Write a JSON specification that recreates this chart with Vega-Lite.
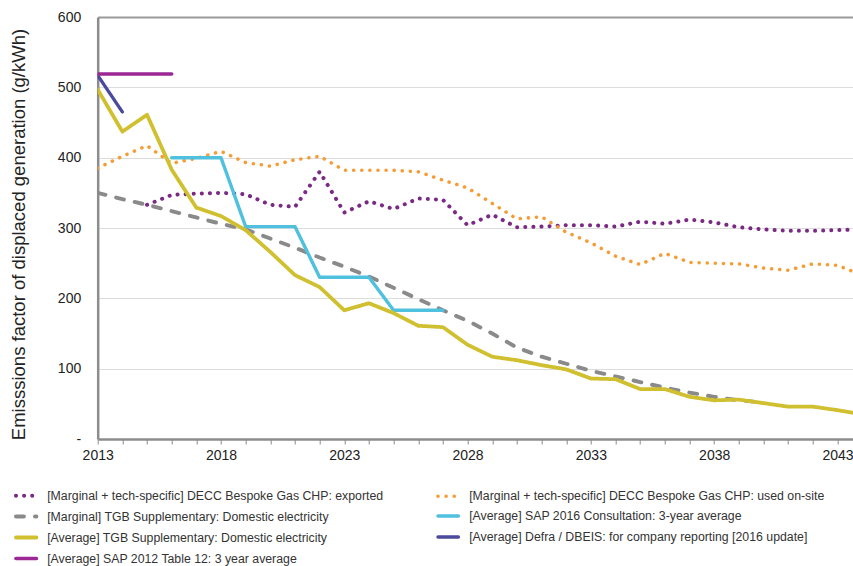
{
  "$schema": "https://vega.github.io/schema/vega-lite/v6.json",
  "width": 755.3,
  "height": 422,
  "autosize": {"type": "none"},
  "padding": {"left": 97.7, "top": 17, "right": 0, "bottom": 127},
  "background": "white",
  "config": {
    "view": {"stroke": null},
    "font": "Liberation Sans",
    "axis": {"labelFont": "Liberation Sans", "titleFont": "Liberation Sans"},
    "legend": {"labelFont": "Liberation Sans"}
  },
  "data": {
    "values": [
      {"series": "[Marginal + tech-specific] DECC Bespoke Gas CHP: exported", "year": 2015, "value": 333},
      {"series": "[Marginal + tech-specific] DECC Bespoke Gas CHP: exported", "year": 2016, "value": 347},
      {"series": "[Marginal + tech-specific] DECC Bespoke Gas CHP: exported", "year": 2017, "value": 349},
      {"series": "[Marginal + tech-specific] DECC Bespoke Gas CHP: exported", "year": 2018, "value": 350},
      {"series": "[Marginal + tech-specific] DECC Bespoke Gas CHP: exported", "year": 2019, "value": 348},
      {"series": "[Marginal + tech-specific] DECC Bespoke Gas CHP: exported", "year": 2020, "value": 333},
      {"series": "[Marginal + tech-specific] DECC Bespoke Gas CHP: exported", "year": 2021, "value": 330},
      {"series": "[Marginal + tech-specific] DECC Bespoke Gas CHP: exported", "year": 2022, "value": 380},
      {"series": "[Marginal + tech-specific] DECC Bespoke Gas CHP: exported", "year": 2023, "value": 322},
      {"series": "[Marginal + tech-specific] DECC Bespoke Gas CHP: exported", "year": 2024, "value": 338},
      {"series": "[Marginal + tech-specific] DECC Bespoke Gas CHP: exported", "year": 2025, "value": 327},
      {"series": "[Marginal + tech-specific] DECC Bespoke Gas CHP: exported", "year": 2026, "value": 342},
      {"series": "[Marginal + tech-specific] DECC Bespoke Gas CHP: exported", "year": 2027, "value": 340},
      {"series": "[Marginal + tech-specific] DECC Bespoke Gas CHP: exported", "year": 2028, "value": 304},
      {"series": "[Marginal + tech-specific] DECC Bespoke Gas CHP: exported", "year": 2029, "value": 319},
      {"series": "[Marginal + tech-specific] DECC Bespoke Gas CHP: exported", "year": 2030, "value": 301},
      {"series": "[Marginal + tech-specific] DECC Bespoke Gas CHP: exported", "year": 2031, "value": 302},
      {"series": "[Marginal + tech-specific] DECC Bespoke Gas CHP: exported", "year": 2032, "value": 304},
      {"series": "[Marginal + tech-specific] DECC Bespoke Gas CHP: exported", "year": 2033, "value": 304},
      {"series": "[Marginal + tech-specific] DECC Bespoke Gas CHP: exported", "year": 2034, "value": 302},
      {"series": "[Marginal + tech-specific] DECC Bespoke Gas CHP: exported", "year": 2035, "value": 309},
      {"series": "[Marginal + tech-specific] DECC Bespoke Gas CHP: exported", "year": 2036, "value": 306},
      {"series": "[Marginal + tech-specific] DECC Bespoke Gas CHP: exported", "year": 2037, "value": 312},
      {"series": "[Marginal + tech-specific] DECC Bespoke Gas CHP: exported", "year": 2038, "value": 308},
      {"series": "[Marginal + tech-specific] DECC Bespoke Gas CHP: exported", "year": 2039, "value": 301},
      {"series": "[Marginal + tech-specific] DECC Bespoke Gas CHP: exported", "year": 2040, "value": 298},
      {"series": "[Marginal + tech-specific] DECC Bespoke Gas CHP: exported", "year": 2041, "value": 296},
      {"series": "[Marginal + tech-specific] DECC Bespoke Gas CHP: exported", "year": 2042, "value": 296},
      {"series": "[Marginal + tech-specific] DECC Bespoke Gas CHP: exported", "year": 2043, "value": 297},
      {"series": "[Marginal + tech-specific] DECC Bespoke Gas CHP: exported", "year": 2044, "value": 298},

      {"series": "[Marginal + tech-specific] DECC Bespoke Gas CHP: used on-site", "year": 2013, "value": 385},
      {"series": "[Marginal + tech-specific] DECC Bespoke Gas CHP: used on-site", "year": 2014, "value": 402},
      {"series": "[Marginal + tech-specific] DECC Bespoke Gas CHP: used on-site", "year": 2015, "value": 417},
      {"series": "[Marginal + tech-specific] DECC Bespoke Gas CHP: used on-site", "year": 2016, "value": 392},
      {"series": "[Marginal + tech-specific] DECC Bespoke Gas CHP: used on-site", "year": 2017, "value": 399},
      {"series": "[Marginal + tech-specific] DECC Bespoke Gas CHP: used on-site", "year": 2018, "value": 409},
      {"series": "[Marginal + tech-specific] DECC Bespoke Gas CHP: used on-site", "year": 2019, "value": 393},
      {"series": "[Marginal + tech-specific] DECC Bespoke Gas CHP: used on-site", "year": 2020, "value": 388},
      {"series": "[Marginal + tech-specific] DECC Bespoke Gas CHP: used on-site", "year": 2021, "value": 397},
      {"series": "[Marginal + tech-specific] DECC Bespoke Gas CHP: used on-site", "year": 2022, "value": 402},
      {"series": "[Marginal + tech-specific] DECC Bespoke Gas CHP: used on-site", "year": 2023, "value": 382},
      {"series": "[Marginal + tech-specific] DECC Bespoke Gas CHP: used on-site", "year": 2024, "value": 382},
      {"series": "[Marginal + tech-specific] DECC Bespoke Gas CHP: used on-site", "year": 2025, "value": 382},
      {"series": "[Marginal + tech-specific] DECC Bespoke Gas CHP: used on-site", "year": 2026, "value": 380},
      {"series": "[Marginal + tech-specific] DECC Bespoke Gas CHP: used on-site", "year": 2027, "value": 368},
      {"series": "[Marginal + tech-specific] DECC Bespoke Gas CHP: used on-site", "year": 2028, "value": 357},
      {"series": "[Marginal + tech-specific] DECC Bespoke Gas CHP: used on-site", "year": 2029, "value": 335},
      {"series": "[Marginal + tech-specific] DECC Bespoke Gas CHP: used on-site", "year": 2030, "value": 313},
      {"series": "[Marginal + tech-specific] DECC Bespoke Gas CHP: used on-site", "year": 2031, "value": 316},
      {"series": "[Marginal + tech-specific] DECC Bespoke Gas CHP: used on-site", "year": 2032, "value": 294},
      {"series": "[Marginal + tech-specific] DECC Bespoke Gas CHP: used on-site", "year": 2033, "value": 279},
      {"series": "[Marginal + tech-specific] DECC Bespoke Gas CHP: used on-site", "year": 2034, "value": 260},
      {"series": "[Marginal + tech-specific] DECC Bespoke Gas CHP: used on-site", "year": 2035, "value": 248},
      {"series": "[Marginal + tech-specific] DECC Bespoke Gas CHP: used on-site", "year": 2036, "value": 264},
      {"series": "[Marginal + tech-specific] DECC Bespoke Gas CHP: used on-site", "year": 2037, "value": 251},
      {"series": "[Marginal + tech-specific] DECC Bespoke Gas CHP: used on-site", "year": 2038, "value": 250},
      {"series": "[Marginal + tech-specific] DECC Bespoke Gas CHP: used on-site", "year": 2039, "value": 249},
      {"series": "[Marginal + tech-specific] DECC Bespoke Gas CHP: used on-site", "year": 2040, "value": 243},
      {"series": "[Marginal + tech-specific] DECC Bespoke Gas CHP: used on-site", "year": 2041, "value": 240},
      {"series": "[Marginal + tech-specific] DECC Bespoke Gas CHP: used on-site", "year": 2042, "value": 249},
      {"series": "[Marginal + tech-specific] DECC Bespoke Gas CHP: used on-site", "year": 2043, "value": 247},
      {"series": "[Marginal + tech-specific] DECC Bespoke Gas CHP: used on-site", "year": 2044, "value": 233},

      {"series": "[Marginal] TGB Supplementary: Domestic electricity", "year": 2013, "value": 350},
      {"series": "[Marginal] TGB Supplementary: Domestic electricity", "year": 2014, "value": 341},
      {"series": "[Marginal] TGB Supplementary: Domestic electricity", "year": 2015, "value": 333},
      {"series": "[Marginal] TGB Supplementary: Domestic electricity", "year": 2016, "value": 324},
      {"series": "[Marginal] TGB Supplementary: Domestic electricity", "year": 2017, "value": 315},
      {"series": "[Marginal] TGB Supplementary: Domestic electricity", "year": 2018, "value": 306},
      {"series": "[Marginal] TGB Supplementary: Domestic electricity", "year": 2019, "value": 298},
      {"series": "[Marginal] TGB Supplementary: Domestic electricity", "year": 2020, "value": 285},
      {"series": "[Marginal] TGB Supplementary: Domestic electricity", "year": 2021, "value": 272},
      {"series": "[Marginal] TGB Supplementary: Domestic electricity", "year": 2022, "value": 258},
      {"series": "[Marginal] TGB Supplementary: Domestic electricity", "year": 2023, "value": 245},
      {"series": "[Marginal] TGB Supplementary: Domestic electricity", "year": 2024, "value": 231},
      {"series": "[Marginal] TGB Supplementary: Domestic electricity", "year": 2025, "value": 215},
      {"series": "[Marginal] TGB Supplementary: Domestic electricity", "year": 2026, "value": 199},
      {"series": "[Marginal] TGB Supplementary: Domestic electricity", "year": 2027, "value": 183},
      {"series": "[Marginal] TGB Supplementary: Domestic electricity", "year": 2028, "value": 168},
      {"series": "[Marginal] TGB Supplementary: Domestic electricity", "year": 2029, "value": 150},
      {"series": "[Marginal] TGB Supplementary: Domestic electricity", "year": 2030, "value": 130},
      {"series": "[Marginal] TGB Supplementary: Domestic electricity", "year": 2031, "value": 117},
      {"series": "[Marginal] TGB Supplementary: Domestic electricity", "year": 2032, "value": 107},
      {"series": "[Marginal] TGB Supplementary: Domestic electricity", "year": 2033, "value": 97},
      {"series": "[Marginal] TGB Supplementary: Domestic electricity", "year": 2034, "value": 89},
      {"series": "[Marginal] TGB Supplementary: Domestic electricity", "year": 2035, "value": 81},
      {"series": "[Marginal] TGB Supplementary: Domestic electricity", "year": 2036, "value": 73},
      {"series": "[Marginal] TGB Supplementary: Domestic electricity", "year": 2037, "value": 66},
      {"series": "[Marginal] TGB Supplementary: Domestic electricity", "year": 2038, "value": 60},
      {"series": "[Marginal] TGB Supplementary: Domestic electricity", "year": 2039, "value": 55},
      {"series": "[Marginal] TGB Supplementary: Domestic electricity", "year": 2040, "value": 52},

      {"series": "[Average] SAP 2016 Consultation: 3-year average", "year": 2016, "value": 400},
      {"series": "[Average] SAP 2016 Consultation: 3-year average", "year": 2017, "value": 400},
      {"series": "[Average] SAP 2016 Consultation: 3-year average", "year": 2018, "value": 400},
      {"series": "[Average] SAP 2016 Consultation: 3-year average", "year": 2019, "value": 302},
      {"series": "[Average] SAP 2016 Consultation: 3-year average", "year": 2020, "value": 302},
      {"series": "[Average] SAP 2016 Consultation: 3-year average", "year": 2021, "value": 302},
      {"series": "[Average] SAP 2016 Consultation: 3-year average", "year": 2022, "value": 230},
      {"series": "[Average] SAP 2016 Consultation: 3-year average", "year": 2023, "value": 230},
      {"series": "[Average] SAP 2016 Consultation: 3-year average", "year": 2024, "value": 230},
      {"series": "[Average] SAP 2016 Consultation: 3-year average", "year": 2025, "value": 183},
      {"series": "[Average] SAP 2016 Consultation: 3-year average", "year": 2026, "value": 183},
      {"series": "[Average] SAP 2016 Consultation: 3-year average", "year": 2027, "value": 183},

      {"series": "[Average] TGB Supplementary: Domestic electricity", "year": 2013, "value": 497},
      {"series": "[Average] TGB Supplementary: Domestic electricity", "year": 2014, "value": 437},
      {"series": "[Average] TGB Supplementary: Domestic electricity", "year": 2015, "value": 461},
      {"series": "[Average] TGB Supplementary: Domestic electricity", "year": 2016, "value": 383},
      {"series": "[Average] TGB Supplementary: Domestic electricity", "year": 2017, "value": 329},
      {"series": "[Average] TGB Supplementary: Domestic electricity", "year": 2018, "value": 317},
      {"series": "[Average] TGB Supplementary: Domestic electricity", "year": 2019, "value": 297},
      {"series": "[Average] TGB Supplementary: Domestic electricity", "year": 2020, "value": 266},
      {"series": "[Average] TGB Supplementary: Domestic electricity", "year": 2021, "value": 233},
      {"series": "[Average] TGB Supplementary: Domestic electricity", "year": 2022, "value": 216},
      {"series": "[Average] TGB Supplementary: Domestic electricity", "year": 2023, "value": 183},
      {"series": "[Average] TGB Supplementary: Domestic electricity", "year": 2024, "value": 193},
      {"series": "[Average] TGB Supplementary: Domestic electricity", "year": 2025, "value": 179},
      {"series": "[Average] TGB Supplementary: Domestic electricity", "year": 2026, "value": 161},
      {"series": "[Average] TGB Supplementary: Domestic electricity", "year": 2027, "value": 159},
      {"series": "[Average] TGB Supplementary: Domestic electricity", "year": 2028, "value": 134},
      {"series": "[Average] TGB Supplementary: Domestic electricity", "year": 2029, "value": 117},
      {"series": "[Average] TGB Supplementary: Domestic electricity", "year": 2030, "value": 112},
      {"series": "[Average] TGB Supplementary: Domestic electricity", "year": 2031, "value": 105},
      {"series": "[Average] TGB Supplementary: Domestic electricity", "year": 2032, "value": 99},
      {"series": "[Average] TGB Supplementary: Domestic electricity", "year": 2033, "value": 86},
      {"series": "[Average] TGB Supplementary: Domestic electricity", "year": 2034, "value": 85},
      {"series": "[Average] TGB Supplementary: Domestic electricity", "year": 2035, "value": 71},
      {"series": "[Average] TGB Supplementary: Domestic electricity", "year": 2036, "value": 71},
      {"series": "[Average] TGB Supplementary: Domestic electricity", "year": 2037, "value": 60},
      {"series": "[Average] TGB Supplementary: Domestic electricity", "year": 2038, "value": 55},
      {"series": "[Average] TGB Supplementary: Domestic electricity", "year": 2039, "value": 56},
      {"series": "[Average] TGB Supplementary: Domestic electricity", "year": 2040, "value": 51},
      {"series": "[Average] TGB Supplementary: Domestic electricity", "year": 2041, "value": 46},
      {"series": "[Average] TGB Supplementary: Domestic electricity", "year": 2042, "value": 46},
      {"series": "[Average] TGB Supplementary: Domestic electricity", "year": 2043, "value": 41},
      {"series": "[Average] TGB Supplementary: Domestic electricity", "year": 2044, "value": 35},

      {"series": "[Average] Defra / DBEIS: for company reporting [2016 update]", "year": 2013, "value": 517},
      {"series": "[Average] Defra / DBEIS: for company reporting [2016 update]", "year": 2014, "value": 465},

      {"series": "[Average] SAP 2012 Table 12: 3 year average", "year": 2013, "value": 519},
      {"series": "[Average] SAP 2012 Table 12: 3 year average", "year": 2014, "value": 519},
      {"series": "[Average] SAP 2012 Table 12: 3 year average", "year": 2015, "value": 519},
      {"series": "[Average] SAP 2012 Table 12: 3 year average", "year": 2016, "value": 519}
    ]
  },
  "mark": {"type": "line", "strokeCap": "round", "strokeJoin": "round", "clip": true},
  "encoding": {
    "x": {
      "field": "year",
      "type": "quantitative",
      "scale": {"domain": [2013, 2043.63], "nice": false, "zero": false},
      "axis": {
        "title": null,
        "values": [2013, 2014, 2015, 2016, 2017, 2018, 2019, 2020, 2021, 2022, 2023, 2024, 2025, 2026, 2027, 2028, 2029, 2030, 2031, 2032, 2033, 2034, 2035, 2036, 2037, 2038, 2039, 2040, 2041, 2042, 2043],
        "format": "d",
        "labelExpr": "(datum.value - 2013) % 5 === 0 ? datum.label : ''",
        "labelOverlap": false,
        "labelFlush": false,
        "grid": false,
        "domainColor": "#8c8c8c",
        "domainWidth": 2.5,
        "tickColor": "#8c8c8c",
        "tickSize": 5,
        "tickWidth": 1,
        "labelFontSize": 14,
        "labelColor": "#222222",
        "labelPadding": 4
      }
    },
    "y": {
      "field": "value",
      "type": "quantitative",
      "scale": {"domain": [0, 600], "nice": false},
      "axis": {
        "values": [0, 100, 200, 300, 400, 500, 600],
        "labelExpr": "datum.value === 0 ? '-' : datum.label",
        "grid": true,
        "gridColor": {"condition": {"test": "datum.value === 600", "value": "#9a9a9a"}, "value": "#dcdcdc"},
        "gridWidth": {"condition": {"test": "datum.value === 600", "value": 2}, "value": 1},
        "domainColor": "#8c8c8c",
        "domainWidth": 2.5,
        "ticks": false,
        "labelPadding": 17,
        "labelFontSize": 14,
        "labelColor": "#222222",
        "title": "Emisssions factor of displaced generation (g/kWh)",
        "titleFontSize": 18.5,
        "titleFontWeight": "normal",
        "titleColor": "#222222",
        "titlePadding": 29,
        "titleY": 217
      }
    },
    "strokeWidth": {
      "field": "series",
      "type": "nominal",
      "scale": {
        "domain": [
          "[Marginal + tech-specific] DECC Bespoke Gas CHP: exported",
          "[Marginal] TGB Supplementary: Domestic electricity",
          "[Average] TGB Supplementary: Domestic electricity",
          "[Average] SAP 2012 Table 12: 3 year average",
          "[Marginal + tech-specific] DECC Bespoke Gas CHP: used on-site",
          "[Average] SAP 2016 Consultation: 3-year average",
          "[Average] Defra / DBEIS: for company reporting [2016 update]"
        ],
        "range": [4, 3.3, 3.2, 3.2, 4, 3.2, 3.2]
      },
      "legend": null
    },
    "color": {
      "field": "series",
      "type": "nominal",
      "scale": {
        "domain": [
          "[Marginal + tech-specific] DECC Bespoke Gas CHP: exported",
          "[Marginal] TGB Supplementary: Domestic electricity",
          "[Average] TGB Supplementary: Domestic electricity",
          "[Average] SAP 2012 Table 12: 3 year average",
          "[Marginal + tech-specific] DECC Bespoke Gas CHP: used on-site",
          "[Average] SAP 2016 Consultation: 3-year average",
          "[Average] Defra / DBEIS: for company reporting [2016 update]"
        ],
        "range": ["#7a2a82", "#8a8a8a", "#d0c030", "#9c2896", "#f59c34", "#4fc0de", "#4b4a9c"]
      },
      "legend": {
        "title": null,
        "orient": "none",
        "legendX": -84,
        "legendY": 466,
        "columns": 2,
        "columnPadding": 47,
        "rowPadding": 0,
        "padding": 0,
        "symbolType": "stroke",
        "symbolSize": 420,
        "symbolStrokeWidth": 3.5,
        "labelFontSize": 12.3,
        "labelColor": "#333333",
        "labelLimit": 600,
        "labelOffset": 8.5,
        "encode": {"symbols": {"update": {"strokeCap": {"value": "round"}}}}
      }
    },
    "strokeDash": {
      "field": "series",
      "type": "nominal",
      "scale": {
        "domain": [
          "[Marginal + tech-specific] DECC Bespoke Gas CHP: exported",
          "[Marginal] TGB Supplementary: Domestic electricity",
          "[Average] TGB Supplementary: Domestic electricity",
          "[Average] SAP 2012 Table 12: 3 year average",
          "[Marginal + tech-specific] DECC Bespoke Gas CHP: used on-site",
          "[Average] SAP 2016 Consultation: 3-year average",
          "[Average] Defra / DBEIS: for company reporting [2016 update]"
        ],
        "range": [[0.1, 8], [8, 11], [1, 0], [1, 0], [0.1, 8], [1, 0], [1, 0]]
      },
      "legend": {
        "title": null,
        "orient": "none",
        "legendX": -84,
        "legendY": 466,
        "columns": 2,
        "columnPadding": 47,
        "rowPadding": 0,
        "padding": 0,
        "symbolType": "stroke",
        "symbolSize": 420,
        "symbolStrokeWidth": 3.5,
        "labelFontSize": 12.3,
        "labelColor": "#333333",
        "labelLimit": 600,
        "labelOffset": 8.5,
        "encode": {"symbols": {"update": {"strokeCap": {"value": "round"}}}}
      }
    }
  }
}
